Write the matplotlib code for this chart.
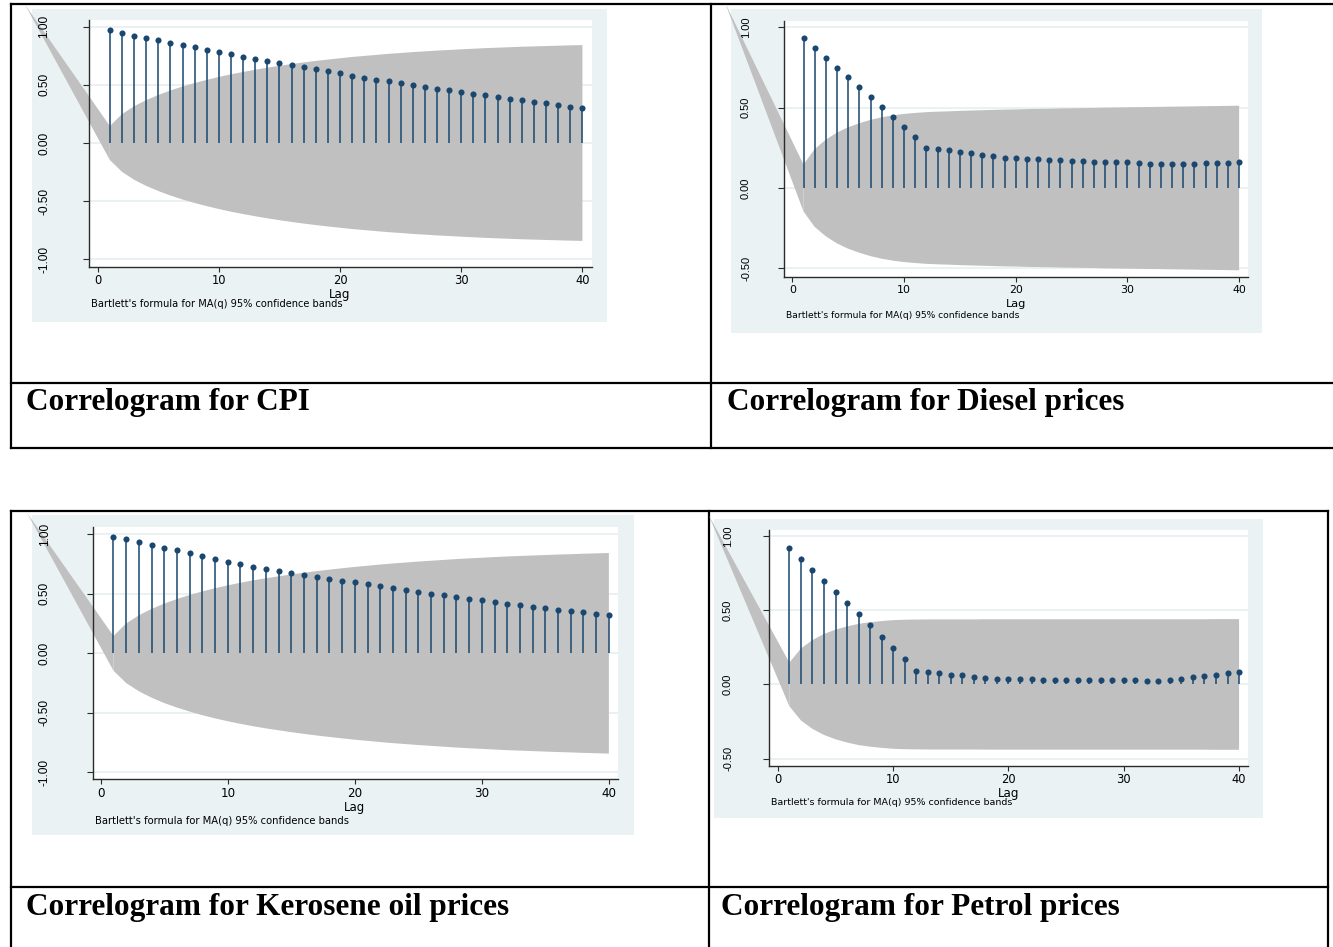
import matplotlib
matplotlib.use("Agg")
import matplotlib.pyplot as plt
from matplotlib.patches import Rectangle
from matplotlib import transforms

# ---------------- data ----------------
lags = list(range(1, 41))
x_ticks = [0, 10, 20, 30, 40]
x_tick_labels = ["0", "10", "20", "30", "40"]
y_ticks_full = [-1.0, -0.5, 0.0, 0.5, 1.0]
y_labels_full = ["-1.00", "-0.50", "0.00", "0.50", "1.00"]
y_ticks_short = [-0.5, 0.0, 0.5, 1.0]
y_labels_short = ["-0.50", "0.00", "0.50", "1.00"]

cpi_acf = [0.971, 0.946, 0.923, 0.903, 0.883, 0.863, 0.843, 0.823, 0.803, 0.780,
           0.763, 0.743, 0.723, 0.706, 0.689, 0.669, 0.651, 0.634, 0.617, 0.600,
           0.580, 0.563, 0.546, 0.531, 0.514, 0.497, 0.480, 0.466, 0.454, 0.437,
           0.423, 0.409, 0.394, 0.380, 0.366, 0.351, 0.340, 0.326, 0.311, 0.300]
cpi_band = [0.146, 0.248, 0.316, 0.369, 0.413, 0.452, 0.486, 0.516, 0.543, 0.568,
            0.591, 0.611, 0.630, 0.648, 0.664, 0.679, 0.693, 0.706, 0.718, 0.729,
            0.740, 0.749, 0.758, 0.767, 0.774, 0.782, 0.788, 0.795, 0.800, 0.806,
            0.811, 0.816, 0.820, 0.824, 0.828, 0.831, 0.834, 0.837, 0.840, 0.842]

diesel_acf = [0.936, 0.874, 0.812, 0.749, 0.689, 0.629, 0.567, 0.505, 0.443, 0.377,
              0.315, 0.251, 0.242, 0.234, 0.226, 0.217, 0.207, 0.199, 0.188, 0.184,
              0.180, 0.178, 0.174, 0.172, 0.168, 0.166, 0.164, 0.164, 0.161, 0.159,
              0.157, 0.151, 0.149, 0.149, 0.151, 0.151, 0.153, 0.155, 0.157, 0.159]
diesel_band = [0.146, 0.242, 0.301, 0.345, 0.378, 0.403, 0.424, 0.440, 0.452, 0.461,
               0.467, 0.472, 0.475, 0.477, 0.480, 0.482, 0.484, 0.486, 0.488, 0.489,
               0.491, 0.492, 0.493, 0.495, 0.496, 0.497, 0.498, 0.500, 0.501, 0.502,
               0.503, 0.504, 0.505, 0.506, 0.507, 0.508, 0.509, 0.510, 0.511, 0.512]

kero_acf = [0.980, 0.958, 0.936, 0.913, 0.888, 0.866, 0.843, 0.821, 0.796, 0.770,
            0.748, 0.723, 0.706, 0.689, 0.672, 0.655, 0.641, 0.622, 0.608, 0.597,
            0.580, 0.563, 0.546, 0.529, 0.515, 0.501, 0.487, 0.473, 0.459, 0.448,
            0.431, 0.417, 0.403, 0.392, 0.378, 0.367, 0.356, 0.345, 0.333, 0.319]
kero_band = [0.146, 0.250, 0.319, 0.373, 0.418, 0.456, 0.490, 0.520, 0.547, 0.571,
             0.593, 0.613, 0.631, 0.647, 0.663, 0.677, 0.691, 0.703, 0.715, 0.726,
             0.736, 0.746, 0.755, 0.763, 0.771, 0.778, 0.785, 0.792, 0.798, 0.803,
             0.809, 0.814, 0.818, 0.822, 0.826, 0.830, 0.833, 0.837, 0.840, 0.843]

petrol_acf = [0.921, 0.845, 0.771, 0.697, 0.622, 0.548, 0.474, 0.398, 0.321, 0.247,
              0.169, 0.092, 0.083, 0.074, 0.067, 0.061, 0.052, 0.043, 0.038, 0.036,
              0.036, 0.034, 0.031, 0.029, 0.027, 0.029, 0.029, 0.031, 0.031, 0.031,
              0.027, 0.025, 0.022, 0.027, 0.036, 0.047, 0.056, 0.065, 0.074, 0.083]
petrol_band = [0.147, 0.242, 0.299, 0.340, 0.369, 0.391, 0.408, 0.419, 0.427, 0.433,
               0.436, 0.437, 0.438, 0.438, 0.438, 0.438, 0.438, 0.439, 0.439, 0.439,
               0.439, 0.439, 0.439, 0.439, 0.439, 0.439, 0.439, 0.439, 0.439, 0.439,
               0.439, 0.439, 0.439, 0.439, 0.439, 0.439, 0.439, 0.440, 0.440, 0.440]

# tip of the stray band strip that leaves each plot at the upper left
strip_tip_lag = [-6.0, -6.0, -5.8, -6.0]
strip_tip_val = [1.19, 1.15, 1.18, 1.14]

captions = ["Correlogram for CPI", "Correlogram for Diesel prices",
            "Correlogram for Kerosene oil prices", "Correlogram for Petrol prices"]
note_text = "Bartlett's formula for MA(q) 95% confidence bands"
x_title = "Lag"

# ---------------- layout / style ----------------
W, H = 1333, 947
NAVY = "#1A476F"
BAND = "#C0C0C0"
BGC = "#EAF2F3"
GRID = "#E6EFF1"
AXC = "#2b2b2b"
PX = 0.72  # points per pixel at dpi 100

panels = [
    dict(acf=cpi_acf, band=cpi_band, bg=(32, 9, 607, 322), plot=(89, 20, 592, 266.7),
         xlim=(-0.72, 40.79), ylim=(-1.064, 1.058), yt=y_ticks_full, yl=y_labels_full,
         xfs=8.3, lagfs=8.6, yfs=8.6, ypad=32.5, xpad=2.5, lag_top=288,
         note_x=91, note_y=304, note_fs=7.1),
    dict(acf=diesel_acf, band=diesel_band, bg=(731, 9, 1262, 333), plot=(784.3, 20.7, 1247.6, 276.7),
         xlim=(-0.72, 40.76), ylim=(-0.552, 1.041), yt=y_ticks_short, yl=y_labels_short,
         xfs=7.9, lagfs=8.2, yfs=8.0, ypad=27.3, xpad=3.0, lag_top=298.5,
         note_x=786, note_y=315.7, note_fs=6.55),
    dict(acf=kero_acf, band=kero_band, bg=(32, 515, 634, 835), plot=(93, 527.3, 618.4, 779.3),
         xlim=(-0.61, 40.75), ylim=(-1.059, 1.059), yt=y_ticks_full, yl=y_labels_full,
         xfs=8.6, lagfs=8.5, yfs=8.6, ypad=36, xpad=3.0, lag_top=801,
         note_x=94.7, note_y=821, note_fs=7.2),
    dict(acf=petrol_acf, band=petrol_band, bg=(714, 519, 1262.5, 818), plot=(769.1, 530, 1247.7, 765.7),
         xlim=(-0.76, 40.75), ylim=(-0.547, 1.04), yt=y_ticks_short, yl=y_labels_short,
         xfs=8.3, lagfs=8.6, yfs=8.0, ypad=30, xpad=2.0, lag_top=787,
         note_x=771, note_y=802, note_fs=6.8),
]

fig = plt.figure(figsize=(W / 100, H / 100), dpi=100)
fig.patch.set_facecolor("white")
frame = fig.add_axes([0, 0, 1, 1], zorder=-10)
frame.set_xlim(0, W)
frame.set_ylim(H, 0)
frame.axis("off")

# ---- document table lines ----
TLW = 1.6
def seg(x0, y0, x1, y1):
    frame.plot([x0, x1], [y0, y1], color="black", lw=TLW, solid_capstyle="projecting")

# top table
seg(11, 4, W + 5, 4)
seg(11, 383, W + 5, 383)
seg(11, 448, W + 5, 448)
seg(11, 4, 11, 448)
seg(711, 4, 711, 448)
# bottom table
seg(11, 511, 1328, 511)
seg(11, 887, 1328, 887)
seg(11, 511, 11, H + 5)
seg(709, 511, 709, H + 5)
seg(1328, 511, 1328, H + 5)

cap_pos = [(25.5, 410), (727, 410), (25.5, 915), (721, 915)]
for (cx, cy), txt in zip(cap_pos, captions):
    frame.text(cx, cy, txt, fontfamily="Liberation Serif", fontweight="bold",
               fontsize=22.5, va="baseline", ha="left", color="black")

# ---- the four Stata-style correlograms ----
for i, p in enumerate(panels):
    l, t, r, b = p["bg"]
    frame.add_patch(Rectangle((l, t), r - l, b - t, facecolor=BGC, lw=0))
    pl, pt, pr, pb = p["plot"]
    ax = fig.add_axes([pl / W, 1 - pb / H, (pr - pl) / W, (pb - pt) / H])
    ax.set_facecolor("white")
    ax.set_xlim(*p["xlim"])
    ax.set_ylim(*p["ylim"])

    for yv in p["yt"]:
        ax.axhline(yv, color=GRID, lw=1.2, zorder=0.5)

    band = p["band"]
    lower = [-v for v in band]
    ax.fill_between(lags, lower, band, facecolor=BAND, lw=0, zorder=1)
    ax.fill([strip_tip_lag[i], lags[0], lags[0]], [strip_tip_val[i], band[0], lower[0]],
            facecolor=BAND, lw=0, zorder=1, clip_on=False)

    ax.vlines(lags, 0, p["acf"], color=NAVY, lw=1.1, zorder=2)
    ax.plot(lags, p["acf"], "o", color=NAVY, ms=4.4, mec="none", zorder=3)

    for s in ("top", "right"):
        ax.spines[s].set_visible(False)
    for s in ("left", "bottom"):
        ax.spines[s].set_color(AXC)
        ax.spines[s].set_linewidth(1.0)

    ax.set_xticks(x_ticks)
    ax.set_xticklabels(x_tick_labels, fontdict={"family": "DejaVu Sans", "size": p["xfs"]})
    ax.tick_params(axis="x", length=5 * PX, width=0.8, color=AXC, pad=p["xpad"] * PX,
                   labelcolor="black")

    ax.set_yticks(p["yt"])
    ax.set_yticklabels(p["yl"], fontdict={"family": "Liberation Sans", "size": p["yfs"]},
                       rotation=90, va="center")
    ax.tick_params(axis="y", length=6 * PX, width=0.8, color=AXC, pad=p["ypad"] * PX,
                   labelcolor="black")

    tr = transforms.blended_transform_factory(ax.transData, frame.transData)
    frame.text(20, p["lag_top"], x_title, transform=tr, ha="center", va="top",
               fontfamily="DejaVu Sans", fontsize=p["lagfs"], color="black")
    frame.text(p["note_x"], p["note_y"], note_text, ha="left", va="center",
               fontfamily="DejaVu Sans", fontsize=p["note_fs"], color="black")

fig.savefig("out.png", dpi=100)
